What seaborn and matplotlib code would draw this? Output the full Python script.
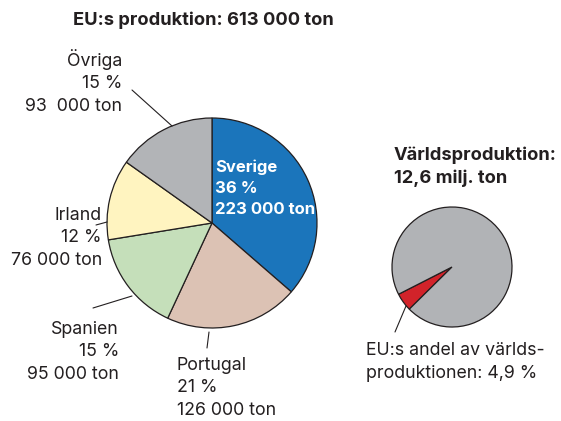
import matplotlib
matplotlib.use("Agg")
import matplotlib.pyplot as plt
import seaborn as sns

# EU production by country (ton)
countries = ["Sverige", "Portugal", "Spanien", "Irland", "Övriga"]
tons = [223000, 126000, 95000, 76000, 93000]
shares = ["36 %", "21 %", "15 %", "12 %", "15 %"]
ton_labels = ["223 000 ton", "126 000 ton", "95 000 ton", "76 000 ton", "93  000 ton"]
colors = ["#1b75bb", "#dcc2b4", "#c5dfba", "#fff4c0", "#b2b4b7"]

# EU share of world production (%)
world_parts = ["EU", "Övriga världen"]
world_share = [4.9, 95.1]
world_colors = ["#d2232a", "#b1b3b6"]

sns.set_theme(style="white")
plt.rcParams["font.family"] = ["Inter", "DejaVu Sans"]

W, H = 561, 421
fig = plt.figure(figsize=(5.61, 4.21), dpi=100)
ax = fig.add_axes([0, 0, 1, 1])

edge = {"edgecolor": "#231f20", "linewidth": 0.9}

# left pie
ax.pie(tons, colors=colors, startangle=90, counterclock=False,
       center=(212, H - 223), radius=105, wedgeprops=edge, frame=False)

# right pie
ax.pie(world_share, colors=world_colors, startangle=207, counterclock=True,
       center=(452, H - 267), radius=60, wedgeprops=edge, frame=False)

ax.set_xlim(0, W)
ax.set_ylim(0, H)
ax.set_aspect("auto")
ax.axis("off")

fs = 12.8
fsb = 13.2
txt = "#231f20"

ax.text(203, H - 20, "EU:s produktion: 613 000 ton", ha="center", va="center",
        fontsize=fsb, fontweight="bold", color=txt)

# Sverige inside the wedge
ax.text(215, H - 188, f"{countries[0]}\n{shares[0]}\n{ton_labels[0]}", ha="left",
        va="center", fontsize=12, fontweight="bold", color="white", linespacing=1.5)

# outside labels
ax.text(177, H - 388, f"{countries[1]}\n{shares[1]}\n{ton_labels[1]}", ha="left",
        va="center", fontsize=fs, color=txt, linespacing=1.42)
ax.text(119, H - 352, f"{countries[2]}\n{shares[2]}\n{ton_labels[2]}", ha="right",
        va="center", fontsize=fs, color=txt, linespacing=1.42, multialignment="right")
ax.text(102, H - 238, f"{countries[3]}\n{shares[3]}\n{ton_labels[3]}", ha="right",
        va="center", fontsize=fs, color=txt, linespacing=1.42, multialignment="right")
ax.text(122, H - 82, f"{countries[4]}\n{shares[4]}\n{ton_labels[4]}", ha="right",
        va="center", fontsize=fs, color=txt, linespacing=1.42, multialignment="right")

# leader lines
lw = 0.8
ax.plot([132, 172], [H - 90, H - 126], color=txt, lw=lw)
ax.plot([96, 107], [H - 225, H - 222], color=txt, lw=lw)
ax.plot([93, 132], [H - 308, H - 296], color=txt, lw=lw)
ax.plot([209, 207], [H - 332, H - 348], color=txt, lw=lw)
ax.plot([395, 406], [H - 332, H - 306], color=txt, lw=lw)

# right side texts
ax.text(394, H - 167, "Världsproduktion:\n12,6 milj. ton", ha="left", va="center",
        fontsize=fsb, fontweight="bold", color=txt, linespacing=1.42)
ax.text(366, H - 362, "EU:s andel av världs-\nproduktionen: 4,9 %", ha="left",
        va="center", fontsize=fs, color=txt, linespacing=1.42)

fig.savefig("out.png", dpi=100, facecolor="white")
